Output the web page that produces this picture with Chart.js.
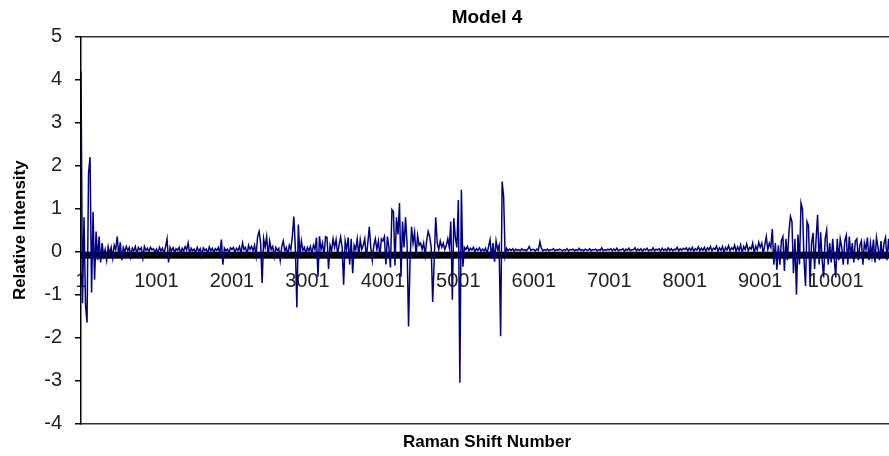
<!DOCTYPE html>
<html>
<head>
<meta charset="utf-8">
<title>Model 4</title>
<script src="https://cdn.jsdelivr.net/npm/chart.js@4"></script>
<style>
  html, body { margin: 0; padding: 0; background: #fff; overflow: hidden; }
  canvas { display: block; }
</style>
</head>
<body>
<canvas id="myChart" width="980" height="456"></canvas>
<script>
// relative intensity, one value every 20 shift numbers, one array per 1000-number span
var SAMPLE_STEP = 20;

var seg0001 = [4.2, -1.2, 0.8, -1.25, -1.65, 1.83, 2.2, -0.95, 0.93, -0.65,
    0.47, -0.2, 0.35, -0.25, 0.2, -0.1, 0.05, -0.2, 0.12, -0.05,
    0.1, -0.15, 0.15, 0.05, 0.35, -0.1, 0.22, -0.2, 0.1, 0.0,
    0.12, 0.02, 0.1, -0.12, 0.08, 0.02, 0.12, -0.05, 0.1, 0.04,
    0.09, -0.15, 0.12, 0.03, 0.08, 0.0, 0.1, 0.04, 0.07, -0.02];
var seg1001 = [0.06, -0.04, 0.1, 0.02, 0.08, -0.05, 0.12, 0.3, -0.25, 0.1,
    0.02, 0.09, -0.02, 0.07, 0.03, 0.1, -0.05, 0.08, 0.01, 0.12,
    0.04, 0.2, -0.06, 0.08, 0.02, 0.06, -0.03, 0.1, 0.01, 0.07,
    -0.1, 0.09, 0.03, 0.06, -0.04, 0.11, 0.02, 0.08, -0.02, 0.07,
    0.03, 0.1, -0.05, 0.28, -0.3, 0.08, 0.02, 0.06, -0.03, 0.09];
var seg2001 = [0.05, 0.1, -0.02, 0.08, 0.03, 0.12, -0.05, 0.2, 0.05, 0.1,
    -0.08, 0.15, 0.05, 0.12, 0.02, 0.15, -0.1, 0.35, 0.47, 0.2,
    -0.73, 0.3, 0.1, 0.35, -0.1, 0.25, 0.05, 0.12, -0.12, 0.1,
    0.03, 0.08, -0.2, 0.12, 0.25, 0.02, 0.1, -0.08, 0.15, 0.05,
    0.35, 0.82, 0.1, -1.3, 0.63, -0.1, 0.25, 0.03, 0.1, -0.05];
var seg3001 = [0.1, 0.02, 0.12, -0.05, 0.15, 0.05, 0.33, -0.58, 0.36, 0.05,
    0.2, -0.1, 0.35, 0.33, -0.4, 0.15, 0.02, 0.3, 0.1, 0.28,
    -0.05, 0.15, 0.34, 0.1, -0.77, 0.25, 0.05, 0.33, -0.3, 0.3,
    -0.5, 0.15, 0.05, 0.3, -0.1, 0.28, 0.05, 0.15, 0.3, -0.15,
    0.2, 0.58, 0.1, -0.2, 0.15, 0.3, 0.05, 0.25, -0.1, 0.3];
var seg4001 = [0.25, 0.35, -0.3, 0.35, 0.1, -0.37, 0.98, 0.93, -0.32, 0.8,
    0.4, 1.13, -0.58, 0.7, 0.1, 0.8, 0.2, -1.74, -0.2, 0.58,
    0.2, 0.45, -0.1, 0.37, 0.15, 0.2, 0.05, 0.2, -0.08, 0.25,
    0.47, 0.35, 0.1, -1.17, -0.2, 0.8, 0.2, 0.05, 0.25, 0.1,
    0.2, 0.05, 0.15, 0.3, 0.1, 0.7, -1.12, 0.78, 0.33, 0.1];
var seg5001 = [1.2, -3.05, 1.44, -0.35, 0.1, 0.05, 0.12, 0.02, 0.08, 0.04,
    0.1, 0.0, 0.07, 0.03, 0.09, 0.01, 0.06, 0.02, 0.08, -0.05,
    0.12, 0.28, -0.15, 0.2, -0.23, 0.25, 0.05, 0.15, -1.97, 1.63,
    1.28, -0.1, 0.08, 0.02, 0.06, 0.03, 0.07, 0.01, 0.06, 0.03,
    0.05, 0.02, 0.07, 0.03, 0.05, 0.02, 0.06, 0.12, 0.03, 0.05];
var seg6001 = [0.05, 0.02, 0.06, 0.03, 0.23, 0.08, 0.02, 0.05, 0.03, 0.06,
    0.02, 0.05, 0.04, 0.07, 0.02, 0.05, 0.03, 0.06, 0.04, 0.02,
    0.05, 0.03, 0.07, 0.02, 0.05, 0.04, 0.06, 0.02, 0.05, 0.03,
    0.08, 0.03, 0.05, 0.02, 0.06, 0.04, 0.03, 0.07, 0.02, 0.05,
    0.04, 0.06, 0.02, 0.05, 0.03, 0.09, 0.02, 0.05, 0.03, 0.06];
var seg7001 = [0.04, 0.07, 0.02, 0.06, 0.03, 0.08, 0.02, 0.05, 0.04, 0.07,
    0.01, 0.06, 0.03, 0.08, 0.02, 0.05, 0.04, 0.09, 0.02, 0.06,
    0.03, 0.07, 0.01, 0.06, 0.04, 0.08, 0.02, 0.05, 0.03, 0.09,
    0.02, 0.06, 0.04, 0.07, 0.01, 0.08, 0.03, 0.06, 0.02, 0.09,
    0.03, 0.07, 0.02, 0.06, 0.04, 0.1, 0.02, 0.07, 0.03, 0.08];
var seg8001 = [0.05, 0.09, 0.02, 0.08, 0.03, 0.1, 0.01, 0.07, 0.04, 0.11,
    0.02, 0.08, 0.03, 0.1, 0.0, 0.09, 0.04, 0.12, 0.02, 0.08,
    0.05, 0.13, 0.01, 0.09, 0.03, 0.12, -0.02, 0.1, 0.04, 0.14,
    0.02, 0.09, 0.05, 0.15, 0.0, 0.11, 0.03, 0.16, -0.03, 0.12,
    0.05, 0.18, 0.02, 0.1, 0.06, 0.2, -0.05, 0.13, 0.04, 0.22];
var seg9001 = [0.1, 0.2, -0.05, 0.15, 0.35, 0.05, 0.2, 0.1, 0.53, -0.3,
    0.2, -0.42, 0.15, -0.3, 0.25, 0.35, -0.45, 0.3, -0.2, 0.45,
    0.82, 0.7, -0.5, 0.3, -1.0, 0.4, -0.3, 1.13, 0.99, -0.2,
    -0.8, 0.7, 0.6, -0.8, 0.2, 0.44, -0.4, 0.3, 0.86, -0.3,
    0.45, -0.2, -0.6, 0.3, 0.5, -0.3, 0.2, -0.25, 0.3, -0.15];
var seg10001 = [-0.6, 0.3, -0.2, 0.3, 0.1, -0.3, 0.25, 0.38, -0.3, 0.35,
    -0.1, 0.2, -0.25, 0.25, 0.3, -0.2, 0.15, 0.25, -0.3, 0.2,
    0.05, 0.33, -0.2, 0.2, -0.1, 0.28, -0.25, 0.33, 0.1, -0.2,
    0.25, -0.15, 0.2, 0.33, -0.2, 0.3, -0.1, 0.25];

var xTickValues = [1, 1001, 2001, 3001, 4001, 5001, 6001, 7001, 8001, 9001, 10001];
var yMin = -4, yMax = 5;
var xMax = 10760;

var intensity = [].concat(seg0001, seg1001, seg2001, seg3001, seg4001, seg5001,
    seg6001, seg7001, seg8001, seg9001, seg10001);
var points = intensity.map(function (v, i) {
    return { x: 1 + i * SAMPLE_STEP, y: v };
});

var FONT = "'Liberation Sans', Arial, sans-serif";

// solid black tick band hanging under the zero line
var zeroBand = {
    id: 'zeroBand',
    beforeDatasetsDraw: function (chart) {
        var c = chart.ctx, a = chart.chartArea;
        var y0 = chart.scales.y.getPixelForValue(0);
        c.save();
        c.fillStyle = '#000';
        c.fillRect(a.left, y0, a.right - a.left, 7);
        c.restore();
    }
};

// bare axis used only for a frame edge and a centred title
function frameAxis(pos, text, size, pad) {
    return {
        type: 'linear',
        position: pos,
        min: 0,
        max: 1,
        grid: { display: false, drawTicks: false },
        border: { display: true, color: '#333', width: 1.5 },
        ticks: { display: false },
        title: {
            display: true,
            text: text,
            color: '#000',
            font: { family: FONT, size: size, weight: 'bold' },
            padding: pad
        }
    };
}

var ctx = document.getElementById('myChart');
var myChart = new Chart(ctx, {
    type: 'line',
    data: {
        datasets: [{
            label: 'Model 4',
            data: points,
            borderColor: '#000080',
            borderWidth: 1.5,
            pointRadius: 0,
            tension: 0,
            fill: false
        }]
    },
    options: {
        responsive: false,
        animation: false,
        layout: { padding: { left: 0, right: 87, top: 0, bottom: 0 } },
        plugins: {
            legend: { display: false },
            tooltip: { enabled: false }
        },
        scales: {
            x: {
                type: 'linear',
                min: 1,
                max: xMax,
                position: { y: 0 },
                afterBuildTicks: function (s) {
                    s.ticks = xTickValues.map(function (v) { return { value: v }; });
                },
                grid: { display: false, drawTicks: false },
                border: { display: false },
                ticks: {
                    autoSkip: false,
                    maxRotation: 0,
                    padding: 18,
                    color: '#222',
                    font: { family: FONT, size: 20 },
                    callback: function (v) { return String(v); }
                }
            },
            xTop: frameAxis('top', 'Model 4', 19, { top: 6, bottom: 8 }),
            xBottom: frameAxis('bottom', 'Raman Shift Number', 17, { top: 9, bottom: 3 }),
            y: {
                min: yMin,
                max: yMax,
                afterFit: function (s) { s.width = 81; },
                ticks: {
                    stepSize: 1,
                    padding: 13,
                    color: '#222',
                    font: { family: FONT, size: 20 }
                },
                grid: {
                    display: true,
                    drawOnChartArea: false,
                    drawTicks: true,
                    tickLength: 6,
                    color: '#000',
                    lineWidth: 1.5
                },
                border: { display: true, color: '#000', width: 1.5 },
                title: {
                    display: true,
                    text: 'Relative Intensity',
                    color: '#000',
                    font: { family: FONT, size: 17, weight: 'bold' },
                    padding: { top: 10, bottom: 0 }
                }
            }
        }
    },
    plugins: [zeroBand]
});
</script>
</body>
</html>
